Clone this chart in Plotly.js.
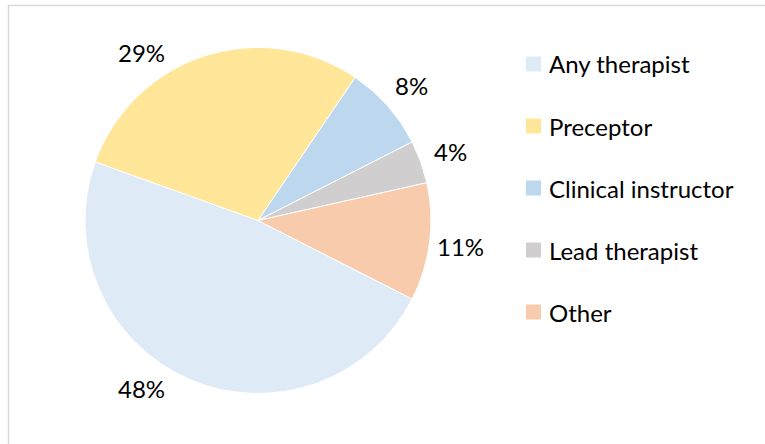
<!DOCTYPE html>
<html>
<head>
<meta charset="utf-8">
<script src="https://cdn.plot.ly/plotly-3.0.1.min.js"></script>
<style>html,body{margin:0;padding:0;background:#fff;}#chart{width:765px;height:444px;}</style>
</head>
<body>
<div id="chart"></div>
<script>
// ---- data ----
const categories = ['Any therapist', 'Preceptor', 'Clinical instructor', 'Lead therapist', 'Other'];
const shares = [48, 29, 8, 4, 11];
const sliceColors = ['#DEEAF6', '#FFE699', '#BDD7EE', '#D0CECE', '#F8CBAD'];

// ---- layout constants ----
const W = 765, H = 444;
const FONT = 'Lato, "Open Sans", sans-serif';
const FS = 24;
const rotation = 117;
const dom = {x: [85 / W, 431 / W], y: [1 - 394 / H, 1 - 47 / H]};

const cxPx = (dom.x[0] + dom.x[1]) / 2 * W;
const cyPx = (1 - (dom.y[0] + dom.y[1]) / 2) * H;
const rPx = Math.min((dom.x[1] - dom.x[0]) * W, (dom.y[1] - dom.y[0]) * H) / 2;

const total = shares.reduce((a, b) => a + b, 0);
const annotations = [];
const shapes = [];

// percentage labels placed outside each slice, along its mid angle
let cum = 0;
shares.forEach((v, i) => {
  const mid = (rotation + (cum + v / 2) / total * 360) * Math.PI / 180;
  cum += v;
  const R = rPx * 1.18;
  let dx = R * Math.sin(mid), dy = -R * Math.cos(mid);
  const lim = rPx * 0.97;
  if (Math.abs(dy) > lim) {
    dy = Math.sign(dy) * lim;
    dx = Math.sign(dx) * Math.sqrt(R * R - dy * dy);
  }
  annotations.push({
    xref: 'paper', yref: 'paper',
    x: (cxPx + dx) / W, y: 1 - (cyPx + dy) / H,
    xanchor: 'center', yanchor: 'middle', showarrow: false,
    text: Math.round(v / total * 100) + '%',
    font: {family: FONT, size: FS, color: '#000000'}
  });
});

// legend (swatch + label)
categories.forEach((c, i) => {
  const yc = 64 + 62 * i;
  shapes.push({
    type: 'rect', xref: 'paper', yref: 'paper',
    x0: 526 / W, x1: 541 / W, y0: 1 - (yc + 7.5) / H, y1: 1 - (yc - 7.5) / H,
    fillcolor: sliceColors[i], line: {width: 0}
  });
  annotations.push({
    xref: 'paper', yref: 'paper', x: 547 / W, y: 1 - yc / H,
    xanchor: 'left', yanchor: 'middle', showarrow: false,
    text: c, font: {family: FONT, size: FS, color: '#000000'}
  });
});

// chart border
shapes.push({
  type: 'rect', xref: 'paper', yref: 'paper',
  x0: 8.5 / W, x1: 1.2, y0: -0.2, y1: 1 - 5.5 / H,
  fillcolor: 'rgba(0,0,0,0)', line: {color: '#D9D9D9', width: 1.5}
});

const trace = {
  type: 'pie',
  labels: categories,
  values: shares,
  sort: false,
  direction: 'clockwise',
  rotation: rotation,
  domain: dom,
  marker: {colors: sliceColors, line: {color: '#FFFFFF', width: 1}},
  textinfo: 'none',
  hoverinfo: 'label+percent',
  showlegend: false
};

const layout = {
  width: W, height: H,
  margin: {l: 0, r: 0, t: 0, b: 0},
  paper_bgcolor: '#FFFFFF',
  showlegend: false,
  annotations: annotations,
  shapes: shapes,
  font: {family: FONT}
};

Plotly.newPlot('chart', [trace], layout, {displayModeBar: false, staticPlot: true});
</script>
</body>
</html>
